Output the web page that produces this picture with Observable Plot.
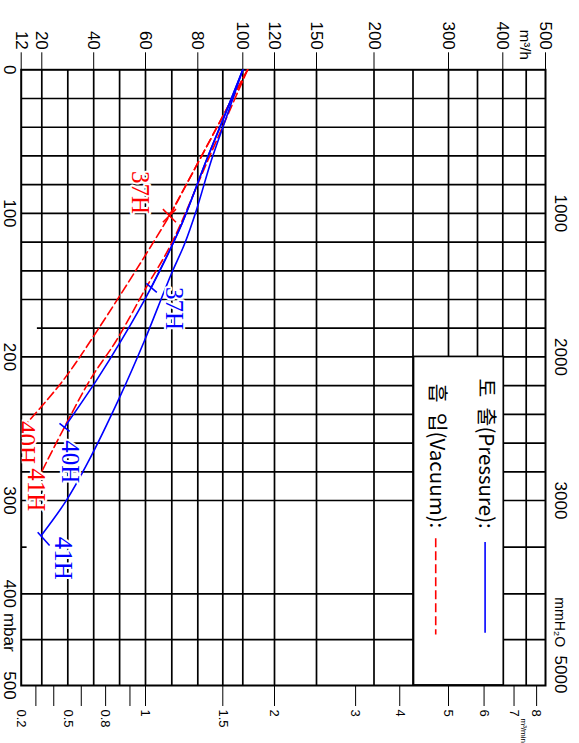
<!DOCTYPE html>
<html>
<head>
<meta charset="utf-8">
<script src="https://cdn.jsdelivr.net/npm/d3@7"></script>
<script src="https://cdn.jsdelivr.net/npm/@observablehq/plot@0.6"></script>
<style>
  html, body { margin: 0; padding: 0; background: #fff; overflow: hidden; }
  #wrap { position: relative; width: 579px; height: 743px; overflow: hidden; background: #fff; }
  #chart { position: absolute; left: 0; top: 0; width: 743px; height: 579px;
           transform-origin: 0 0; transform: translate(579px, 0) rotate(90deg); }
  #chart svg { display: block; }
</style>
</head>
<body>
<div id="wrap"><div id="chart"></div></div>
<script>
// ---------- axis ticks / grid (values) ----------
const flowTicks = [12, 20, 40, 60, 80, 100, 120, 150, 200, 300, 400, 500];          // m³/h
const flowGrid = [20, 30, 40, 50, 60, 70, 80, 90, 100, 120, 150, 200, 250, 300, 350, 400, 450];
const pressTicks = [0, 100, 200, 300, 400, 500];                                     // mbar
const pressGrid = [20, 40, 60, 80, 100, 120, 140, 160, 200, 220, 240, 260, 280, 300, 400, 450];
const mmAqTicks = ["1000", "2000", "3000", "5000"];                                  // mmH2O
const mmAqAt = [100, 200, 300, 488];                                                 // where they sit (mbar)
const minLabels = ["0.2", "0.5", "0.8", "1", "1.5", "2", "3", "4", "5", "6", "7", "8"]; // m³/min
const minLabelAt = [12, 30, 44.6, 60, 90, 120, 184, 233, 300, 363, 424, 477];        // same spot in m³/h
const minTickAt = [17.7, 24.6, 35.2, 44.6, 54, 60, 90, 120, 184, 233, 300, 363, 424, 477];

// ---------- curves: pressure p (mbar) vs flow q (m³/h) ----------
const p41P = [0, 31.9, 63.2, 98.1, 121.3, 142.2, 165.5, 188.7, 228.2, 274.4, 300.2, 337.5];
const q41P = [100, 92.1, 85.4, 79.4, 74.9, 69.8, 64.7, 59.6, 50.0, 37.5, 29.4, 19.8];
const p40P = [0, 31.9, 63.2, 109.7, 151.5, 188.7, 216.5, 249.1];
const q40P = [100, 90.9, 83.4, 73.3, 62.2, 50.6, 41.0, 28.7];
const p37P = [0, 31.9, 63.2, 109.7, 151.5];
const q37P = [100, 90.9, 83.4, 73.3, 62.2];
const p41V = [0, 63.2, 121.3, 151.5, 188.7, 216.6, 280.5];
const q41V = [103, 84, 69.8, 60.3, 48.7, 38.4, 19.8];
const p40V = [0, 75.8, 101.6, 179.4, 216.6, 246.7];
const q40V = [103, 76.8, 69.1, 42.2, 28.1, 13.9];
const p37V = [0, 75.8, 101.6];
const q37V = [103, 76.8, 69.1];

// end-of-curve tick marks [p1, q1, p2, q2]
const endTicksP = [[148.7, 60.3, 155.0, 64.3], [246.3, 26.8, 251.9, 30.7], [334, 18.4, 348.2, 23.0]];
const endTicksV = [[245.6, 13.3, 251.4, 15.9]];
const crossV = [[101.6, 69.1]];

// curve labels
const labelsP = [["37H", 166.2, 71.0], ["40H", 273, 31.0], ["41H", 362, 28.0]];
const labelsV = [["37H", 85.5, 57.7], ["40H", 259.7, 13.7], ["41H", 292.5, 17.9]];

const BLUE = "#0000ff", RED = "#ff0000", INK = "#000";
const pts = (ps, qs) => ps.map((p, i) => ({p, q: qs[i]}));
const fmtMin = new Map(minLabelAt.map((v, i) => [v, minLabels[i]]));
const fmtAq = new Map(mmAqAt.map((v, i) => [v, mmAqTicks[i]]));

const chart = Plot.plot({
  width: 743, height: 579,
  marginLeft: 69.3, marginRight: 58, marginTop: 33, marginBottom: 21.7,
  style: {fontFamily: "'Liberation Sans', Arial, sans-serif", fontSize: "17px", background: "#fff", color: "#000"},
  x: {type: "linear", domain: [0, 300, 400, 500], range: [69.3, 500, 593.3, 685], label: null},
  y: {type: "linear",
      domain: [12, 20, 30, 40, 50, 60, 70, 80, 90, 100, 120, 150, 200, 250, 300, 350, 400, 450, 500],
      range: [557.3, 536.7, 510.7, 484.8, 458.9, 433, 406.7, 380.7, 355.7, 335.7, 304, 262, 204.5, 165.5, 130, 101, 75.7, 52.3, 33],
      label: null},
  marks: [
    // grid
    Plot.ruleY(flowGrid, {x1: 0, x2: 500, stroke: INK, strokeWidth: 1.7}),
    Plot.ruleX(pressGrid, {y1: 12, y2: 500, stroke: INK, strokeWidth: 1.7}),
    Plot.ruleX([180], {y1: 17.9, y2: 500, stroke: INK, strokeWidth: 1.7}),
    Plot.ruleX([350], {y1: 12, y2: 13.9, stroke: INK, strokeWidth: 1.7}),
    Plot.ruleX([350], {y1: 250, y2: 500, stroke: INK, strokeWidth: 1.7}),
    // legend box
    Plot.rect([0], {x1: 200, x2: 500, y1: 250, y2: 400, fill: "#fff", stroke: INK, strokeWidth: 1.7}),
    Plot.frame({stroke: INK, strokeWidth: 2}),
    // curves
    Plot.line(pts(p41V, q41V), {x: "p", y: "q", stroke: RED, strokeWidth: 1.6, strokeDasharray: "9,4", curve: "catmull-rom"}),
    Plot.line(pts(p40V, q40V), {x: "p", y: "q", stroke: RED, strokeWidth: 1.6, strokeDasharray: "9,4", curve: "catmull-rom"}),
    Plot.line(pts(p37V, q37V), {x: "p", y: "q", stroke: RED, strokeWidth: 1.6, strokeDasharray: "9,4", curve: "catmull-rom"}),
    Plot.line(pts(p41P, q41P), {x: "p", y: "q", stroke: BLUE, strokeWidth: 1.6, curve: "catmull-rom"}),
    Plot.line(pts(p40P, q40P), {x: "p", y: "q", stroke: BLUE, strokeWidth: 1.6, curve: "catmull-rom"}),
    Plot.line(pts(p37P, q37P), {x: "p", y: "q", stroke: BLUE, strokeWidth: 1.6, curve: "catmull-rom"}),
    Plot.link(endTicksP, {x1: d => d[0], y1: d => d[1], x2: d => d[2], y2: d => d[3], stroke: BLUE, strokeWidth: 1.6}),
    Plot.link(endTicksV, {x1: d => d[0], y1: d => d[1], x2: d => d[2], y2: d => d[3], stroke: RED, strokeWidth: 1.6}),
    Plot.dot(crossV, {x: d => d[0], y: d => d[1], symbol: "times", r: 6, stroke: RED, strokeWidth: 1.6}),
    // curve labels
    Plot.text(labelsP, {x: d => d[1], y: d => d[2], text: d => d[0], fill: BLUE, fontFamily: "'Liberation Serif', serif",
      fontSize: 25, stroke: "#fff", strokeWidth: 4, paintOrder: "stroke", clip: true}),
    Plot.text(labelsV, {x: d => d[1], y: d => d[2], text: d => d[0], fill: RED, fontFamily: "'Liberation Serif', serif",
      fontSize: 25, stroke: "#fff", strokeWidth: 4, paintOrder: "stroke", clip: true}),
    // legend content
    Plot.text(["토\u2002출(Pressure):"], {x: 215, y: 365, textAnchor: "start", fontFamily: "'Noto Sans CJK KR', sans-serif", fontSize: 20.5}),
    Plot.text(["흡\u2002입(Vacuum):"], {x: 218.6, y: 283, textAnchor: "start", fontFamily: "'Noto Sans CJK KR', sans-serif", fontSize: 20.5}),
    Plot.ruleY([365], {x1: 345, x2: 443, stroke: BLUE, strokeWidth: 1.6}),
    Plot.ruleY([282], {x1: 341, x2: 445, stroke: RED, strokeWidth: 1.6, strokeDasharray: "9,4"}),
    // axes
    Plot.axisY(flowTicks, {anchor: "left", tickSize: 17, tickPadding: 3, fontSize: 17, label: null}),
    Plot.axisY(minTickAt, {anchor: "right", tickSize: 20, tickFormat: () => "", label: null}),
    Plot.axisY(minLabelAt, {anchor: "right", tickSize: 0, tickPadding: 24, tickFormat: d => fmtMin.get(d), fontSize: 13, label: null}),
    Plot.axisX(pressTicks, {anchor: "bottom", tickSize: 0, tickPadding: 5, fontSize: 17, label: null}),
    Plot.axisX(mmAqAt, {anchor: "top", tickSize: 0, tickPadding: 9, tickFormat: d => fmtAq.get(d), fontSize: 17, label: null}),
    // units
    Plot.text(["m³/h"], {frameAnchor: "left", y: 447, dx: -10, textAnchor: "end", fontSize: 15}),
    Plot.text(["mbar"], {x: 442, frameAnchor: "bottom", dy: 5, lineAnchor: "top", fontSize: 17}),
    Plot.text(["mmH₂O"], {x: 431, frameAnchor: "top", dy: -9, lineAnchor: "bottom", fontSize: 14}),
    Plot.text(["m³/min"], {frameAnchor: "right", y: 445, dx: 33, textAnchor: "start", fontSize: 8})
  ]
});
document.getElementById("chart").appendChild(chart);
</script>
</body>
</html>
